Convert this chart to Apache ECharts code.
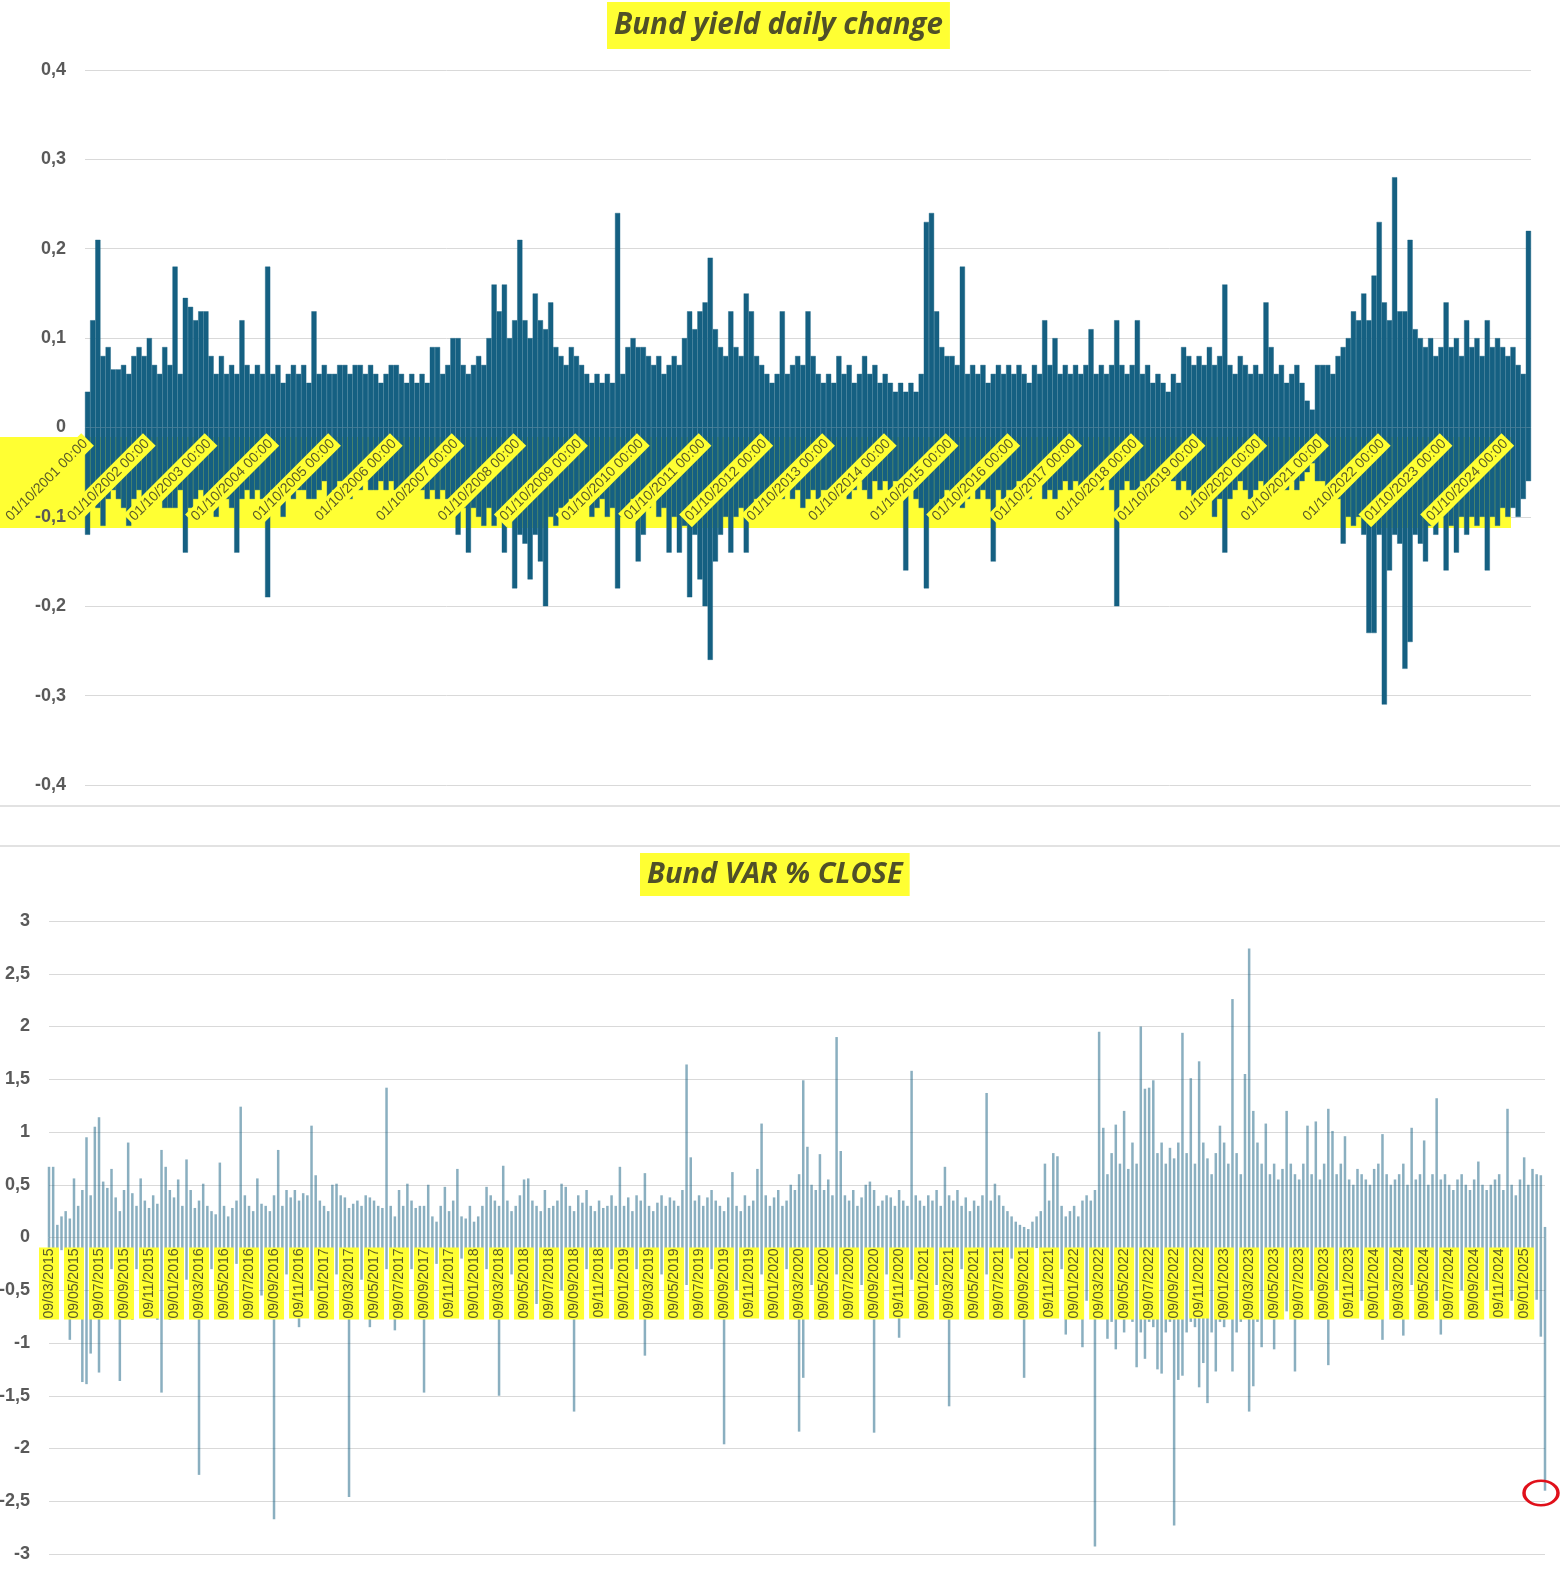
<!DOCTYPE html>
<html>
<head>
<meta charset="utf-8">
<title>Bund yield daily change / Bund VAR % CLOSE</title>
<script src="https://cdn.jsdelivr.net/npm/echarts@6/dist/echarts.min.js"></script>
<style>
  html, body { margin: 0; padding: 0; background: #ffffff; }
  #chart { width: 1560px; height: 1574px; }
</style>
</head>
<body>
<div id="chart"></div>
<script>
// top panel: biggest rise / biggest fall of the Bund yield per month, Oct 2001 .. Feb 2025
const yieldTicks = [
  "01/10/2001 00:00", "01/10/2002 00:00", "01/10/2003 00:00", "01/10/2004 00:00",
  "01/10/2005 00:00", "01/10/2006 00:00", "01/10/2007 00:00", "01/10/2008 00:00",
  "01/10/2009 00:00", "01/10/2010 00:00", "01/10/2011 00:00", "01/10/2012 00:00",
  "01/10/2013 00:00", "01/10/2014 00:00", "01/10/2015 00:00", "01/10/2016 00:00",
  "01/10/2017 00:00", "01/10/2018 00:00", "01/10/2019 00:00", "01/10/2020 00:00",
  "01/10/2021 00:00", "01/10/2022 00:00", "01/10/2023 00:00", "01/10/2024 00:00"
];
const yieldUp = [
  0.04, 0.12, 0.21, 0.08, 0.09, 0.065, 0.065, 0.07, 0.06, 0.08, 0.09, 0.08,
  0.1, 0.07, 0.06, 0.09, 0.07, 0.18, 0.06, 0.145, 0.135, 0.12, 0.13, 0.13,
  0.08, 0.06, 0.08, 0.06, 0.07, 0.06, 0.12, 0.07, 0.06, 0.07, 0.06, 0.18,
  0.06, 0.07, 0.05, 0.06, 0.07, 0.06, 0.07, 0.05, 0.13, 0.06, 0.07, 0.06,
  0.06, 0.07, 0.07, 0.06, 0.07, 0.07, 0.06, 0.07, 0.06, 0.05, 0.06, 0.07,
  0.07, 0.06, 0.05, 0.06, 0.05, 0.06, 0.05, 0.09, 0.09, 0.06, 0.07, 0.1,
  0.1, 0.07, 0.06, 0.07, 0.08, 0.07, 0.1, 0.16, 0.13, 0.16, 0.1, 0.12,
  0.21, 0.12, 0.1, 0.15, 0.12, 0.11, 0.14, 0.09, 0.08, 0.07, 0.09, 0.08,
  0.07, 0.06, 0.05, 0.06, 0.05, 0.06, 0.05, 0.24, 0.06, 0.09, 0.1, 0.09,
  0.09, 0.08, 0.07, 0.08, 0.06, 0.07, 0.08, 0.07, 0.1, 0.13, 0.11, 0.13,
  0.14, 0.19, 0.11, 0.09, 0.08, 0.13, 0.09, 0.08, 0.15, 0.13, 0.08, 0.07,
  0.06, 0.05, 0.06, 0.13, 0.06, 0.07, 0.08, 0.07, 0.13, 0.08, 0.06, 0.05,
  0.06, 0.05, 0.08, 0.06, 0.07, 0.05, 0.06, 0.08, 0.06, 0.07, 0.05, 0.06,
  0.05, 0.04, 0.05, 0.04, 0.05, 0.04, 0.06, 0.23, 0.24, 0.13, 0.09, 0.08,
  0.08, 0.07, 0.18, 0.06, 0.07, 0.06, 0.07, 0.05, 0.06, 0.07, 0.06, 0.07,
  0.06, 0.07, 0.06, 0.05, 0.07, 0.06, 0.12, 0.07, 0.1, 0.06, 0.07, 0.06,
  0.07, 0.06, 0.07, 0.11, 0.06, 0.07, 0.06, 0.07, 0.12, 0.07, 0.06, 0.07,
  0.12, 0.06, 0.07, 0.05, 0.06, 0.05, 0.04, 0.06, 0.05, 0.09, 0.08, 0.07,
  0.08, 0.07, 0.09, 0.07, 0.08, 0.16, 0.07, 0.06, 0.08, 0.07, 0.06, 0.07,
  0.06, 0.14, 0.09, 0.06, 0.07, 0.05, 0.06, 0.07, 0.05, 0.03, 0.02, 0.07,
  0.07, 0.07, 0.06, 0.08, 0.09, 0.1, 0.13, 0.12, 0.15, 0.12, 0.17, 0.23,
  0.14, 0.12, 0.28, 0.13, 0.13, 0.21, 0.11, 0.1, 0.09, 0.1, 0.08, 0.09,
  0.14, 0.09, 0.1, 0.08, 0.12, 0.09, 0.1, 0.08, 0.12, 0.09, 0.1, 0.09,
  0.08, 0.09, 0.07, 0.06, 0.22
];
const yieldDown = [
  -0.12, -0.08, -0.09, -0.11, -0.08, -0.07, -0.08, -0.09, -0.11, -0.08, -0.07, -0.09,
  -0.08, -0.07, -0.08, -0.09, -0.09, -0.09, -0.07, -0.14, -0.09, -0.08, -0.07, -0.08,
  -0.08, -0.1, -0.07, -0.08, -0.09, -0.14, -0.08, -0.07, -0.08, -0.07, -0.08, -0.19,
  -0.07, -0.08, -0.1, -0.07, -0.08, -0.07, -0.07, -0.08, -0.08, -0.07, -0.06, -0.08,
  -0.07, -0.06, -0.07, -0.08, -0.06, -0.07, -0.06, -0.07, -0.07, -0.06, -0.07, -0.06,
  -0.07, -0.08, -0.07, -0.06, -0.07, -0.07, -0.08, -0.07, -0.08, -0.07, -0.08, -0.09,
  -0.12, -0.09, -0.14, -0.09, -0.1, -0.11, -0.09, -0.11, -0.1, -0.14, -0.1, -0.18,
  -0.12, -0.13, -0.17, -0.12, -0.15, -0.2, -0.1, -0.11, -0.09, -0.1, -0.08, -0.09,
  -0.09, -0.08, -0.1, -0.09, -0.08, -0.1, -0.09, -0.18, -0.1, -0.09, -0.08, -0.15,
  -0.12, -0.09, -0.08, -0.1, -0.09, -0.14, -0.1, -0.14, -0.11, -0.19, -0.12, -0.17,
  -0.2, -0.26, -0.15, -0.12, -0.1, -0.14, -0.1, -0.09, -0.14, -0.09, -0.08, -0.08,
  -0.09, -0.08, -0.07, -0.08, -0.07, -0.08, -0.07, -0.09, -0.08, -0.07, -0.08, -0.07,
  -0.07, -0.08, -0.07, -0.06, -0.08, -0.07, -0.06, -0.07, -0.08, -0.06, -0.07, -0.06,
  -0.07, -0.06, -0.07, -0.16, -0.07, -0.08, -0.09, -0.18, -0.1, -0.09, -0.08, -0.07,
  -0.08, -0.07, -0.09, -0.08, -0.07, -0.08, -0.07, -0.08, -0.15, -0.07, -0.08, -0.07,
  -0.07, -0.06, -0.07, -0.08, -0.07, -0.06, -0.08, -0.07, -0.08, -0.07, -0.06, -0.07,
  -0.06, -0.07, -0.06, -0.07, -0.06, -0.07, -0.06, -0.07, -0.2, -0.07, -0.06, -0.07,
  -0.07, -0.06, -0.07, -0.06, -0.07, -0.06, -0.05, -0.06, -0.07, -0.06, -0.07, -0.08,
  -0.07, -0.08, -0.07, -0.1, -0.08, -0.14, -0.08, -0.07, -0.06, -0.07, -0.08, -0.07,
  -0.06, -0.07, -0.06, -0.07, -0.06, -0.07, -0.06, -0.07, -0.06, -0.05, -0.04, -0.06,
  -0.06, -0.07, -0.06, -0.08, -0.13, -0.1, -0.11, -0.1, -0.12, -0.23, -0.23, -0.12,
  -0.31, -0.16, -0.12, -0.13, -0.27, -0.24, -0.12, -0.13, -0.15, -0.11, -0.12, -0.1,
  -0.16, -0.11, -0.14, -0.1, -0.12, -0.1, -0.11, -0.1, -0.16, -0.1, -0.11, -0.09,
  -0.1, -0.09, -0.1, -0.08, -0.06
];

// bottom panel: biggest up / down % close move per ~10 days, Mar 2015 .. Mar 2025
const varTicks = [
  "09/03/2015", "09/05/2015", "09/07/2015", "09/09/2015", "09/11/2015",
  "09/01/2016", "09/03/2016", "09/05/2016", "09/07/2016", "09/09/2016", "09/11/2016",
  "09/01/2017", "09/03/2017", "09/05/2017", "09/07/2017", "09/09/2017", "09/11/2017",
  "09/01/2018", "09/03/2018", "09/05/2018", "09/07/2018", "09/09/2018", "09/11/2018",
  "09/01/2019", "09/03/2019", "09/05/2019", "09/07/2019", "09/09/2019", "09/11/2019",
  "09/01/2020", "09/03/2020", "09/05/2020", "09/07/2020", "09/09/2020", "09/11/2020",
  "09/01/2021", "09/03/2021", "09/05/2021", "09/07/2021", "09/09/2021", "09/11/2021",
  "09/01/2022", "09/03/2022", "09/05/2022", "09/07/2022", "09/09/2022", "09/11/2022",
  "09/01/2023", "09/03/2023", "09/05/2023", "09/07/2023", "09/09/2023", "09/11/2023",
  "09/01/2024", "09/03/2024", "09/05/2024", "09/07/2024", "09/09/2024", "09/11/2024",
  "09/01/2025"
];
const varUp = [
  0.67, 0.67, 0.12, 0.2, 0.25, 0.18, 0.56, 0.3, 0.45, 0.95, 0.4, 1.05, 1.14, 0.53, 0.47, 0.65, 0.38, 0.25, 0.45, 0.9, 0.42, 0.3, 0.56, 0.35, 0.28, 0.4, 0.32, 0.83, 0.67, 0.45,
  0.38, 0.55, 0.3, 0.74, 0.45, 0.28, 0.35, 0.51, 0.3, 0.25, 0.22, 0.71, 0.3, 0.2, 0.28, 0.35, 1.24, 0.4, 0.3, 0.25, 0.56, 0.32, 0.3, 0.25, 0.4, 0.83, 0.3, 0.45, 0.38, 0.45,
  0.35, 0.42, 0.4, 1.06, 0.59, 0.35, 0.3, 0.25, 0.5, 0.51, 0.4, 0.38, 0.28, 0.32, 0.35, 0.3, 0.4, 0.38, 0.35, 0.3, 0.28, 1.42, 0.3, 0.2, 0.45, 0.3, 0.51, 0.35, 0.28, 0.3,
  0.3, 0.5, 0.2, 0.15, 0.3, 0.48, 0.25, 0.35, 0.65, 0.2, 0.18, 0.3, 0.15, 0.2, 0.3, 0.48, 0.4, 0.35, 0.3, 0.68, 0.35, 0.25, 0.3, 0.4, 0.55, 0.56, 0.35, 0.3, 0.25, 0.45,
  0.28, 0.3, 0.35, 0.51, 0.48, 0.3, 0.25, 0.4, 0.33, 0.45, 0.3, 0.25, 0.35, 0.28, 0.3, 0.4, 0.3, 0.67, 0.3, 0.38, 0.25, 0.4, 0.35, 0.61, 0.3, 0.25, 0.33, 0.4, 0.3, 0.38,
  0.35, 0.3, 0.45, 1.64, 0.76, 0.35, 0.4, 0.3, 0.38, 0.45, 0.35, 0.3, 0.25, 0.38, 0.62, 0.3, 0.25, 0.4, 0.3, 0.35, 0.65, 1.08, 0.4, 0.3, 0.38, 0.45, 0.3, 0.35, 0.5, 0.45,
  0.6, 1.49, 0.86, 0.5, 0.45, 0.79, 0.45, 0.55, 0.4, 1.9, 0.82, 0.4, 0.35, 0.45, 0.3, 0.38, 0.5, 0.53, 0.45, 0.3, 0.35, 0.4, 0.38, 0.3, 0.45, 0.35, 0.3, 1.58, 0.4, 0.35,
  0.3, 0.4, 0.35, 0.45, 0.3, 0.67, 0.4, 0.35, 0.45, 0.3, 0.38, 0.25, 0.35, 0.3, 0.4, 1.37, 0.35, 0.51, 0.4, 0.3, 0.25, 0.2, 0.15, 0.12, 0.1, 0.08, 0.15, 0.2, 0.25, 0.7,
  0.35, 0.8, 0.77, 0.3, 0.2, 0.25, 0.3, 0.2, 0.35, 0.4, 0.35, 0.45, 1.95, 1.04, 0.6, 0.8, 1.07, 0.7, 1.2, 0.65, 0.9, 0.7, 2.0, 1.41, 1.42, 1.49, 0.8, 0.9, 0.7, 0.85,
  0.75, 0.9, 1.94, 0.8, 1.51, 0.7, 1.67, 0.9, 0.75, 0.6, 0.8, 1.06, 0.9, 0.7, 2.26, 0.8, 0.6, 1.55, 2.74, 1.2, 0.9, 0.7, 1.08, 0.6, 0.7, 0.55, 0.65, 1.2, 0.7, 0.6,
  0.55, 0.7, 1.06, 0.6, 1.1, 0.55, 0.7, 1.22, 1.01, 0.6, 0.7, 0.96, 0.55, 0.5, 0.65, 0.6, 0.55, 0.5, 0.65, 0.7, 0.98, 0.6, 0.5, 0.55, 0.6, 0.7, 0.5, 1.04, 0.55, 0.6,
  0.92, 0.5, 0.6, 1.32, 0.55, 0.6, 0.5, 0.45, 0.55, 0.6, 0.5, 0.45, 0.55, 0.72, 0.5, 0.45, 0.5, 0.55, 0.6, 0.45, 1.22, 0.5, 0.4, 0.55, 0.76, 0.5, 0.65, 0.6, 0.59, 0.1
];
const varDown = [
  -0.1, -0.15, -0.2, -0.12, -0.3, -0.97, -0.25, -0.2, -1.37, -1.39, -1.1, -0.3, -1.28, -0.4, -0.35, -0.3, -0.5, -1.36, -0.35, -0.6, -0.78, -0.3, -0.4, -0.5, -0.25, -0.3, -0.78, -1.47, -0.5, -0.78,
  -0.35, -0.3, -0.6, -0.4, -0.5, -0.3, -2.25, -0.4, -0.35, -0.3, -0.5, -0.25, -0.4, -0.3, -0.35, -0.25, -0.45, -0.3, -0.5, -0.3, -0.4, -0.55, -0.6, -0.45, -2.67, -0.5, -0.4, -0.35, -0.3, -0.45,
  -0.85, -0.4, -0.35, -0.5, -0.3, -0.45, -0.4, -0.53, -0.3, -0.35, -0.3, -0.4, -2.46, -0.35, -0.3, -0.4, -0.25, -0.85, -0.3, -0.35, -0.4, -0.3, -0.5, -0.88, -0.3, -0.35, -0.25, -0.3, -0.4, -0.35,
  -1.47, -0.3, -0.35, -0.25, -0.4, -0.3, -0.35, -0.25, -0.3, -0.2, -0.3, -0.25, -0.35, -0.3, -0.45, -0.3, -0.25, -0.35, -1.5, -0.4, -0.3, -0.35, -0.5, -0.4, -0.3, -0.45, -0.35, -0.63, -0.3, -0.4,
  -0.35, -0.3, -0.4, -0.5, -0.35, -0.3, -1.65, -0.55, -0.4, -0.3, -0.35, -0.25, -0.3, -0.4, -0.35, -0.3, -0.25, -0.35, -0.4, -0.3, -0.35, -0.3, -0.45, -1.12, -0.35, -0.3, -0.4, -0.35, -0.3, -0.25,
  -0.3, -0.35, -0.4, -0.45, -0.3, -0.35, -0.4, -0.3, -0.35, -0.3, -0.4, -0.35, -1.96, -0.45, -0.4, -0.5, -0.35, -0.3, -0.4, -0.55, -0.45, -0.35, -0.4, -0.3, -0.35, -0.45, -0.4, -0.3, -0.5, -0.35,
  -1.84, -1.33, -0.5, -0.45, -0.4, -0.78, -0.5, -0.4, -0.45, -0.35, -0.6, -0.4, -0.3, -0.35, -0.4, -0.45, -0.3, -0.35, -1.85, -0.4, -0.55, -0.35, -0.3, -0.4, -0.95, -0.3, -0.35, -0.4, -0.3, -0.35,
  -0.35, -0.4, -0.3, -0.45, -0.35, -0.3, -1.6, -0.4, -0.35, -0.3, -0.45, -0.35, -0.4, -0.3, -0.25, -0.35, -0.3, -0.4, -0.3, -0.25, -0.35, -0.2, -0.3, -0.25, -1.33, -0.2, -0.15, -0.1, -0.12, -0.2,
  -0.25, -0.3, -0.35, -0.3, -0.92, -0.4, -0.35, -0.5, -1.04, -0.6, -0.5, -2.93, -0.7, -0.6, -0.96, -0.8, -1.06, -0.7, -0.9, -0.75, -0.8, -1.23, -0.9, -1.15, -0.8, -0.85, -1.25, -1.29, -0.9, -0.8,
  -2.73, -1.35, -1.31, -0.9, -0.8, -0.85, -1.42, -1.19, -1.57, -0.9, -1.27, -0.8, -0.85, -0.75, -1.27, -0.9, -0.8, -0.7, -1.65, -1.41, -0.8, -1.04, -0.7, -0.75, -1.06, -0.6, -0.65, -0.7, -0.6, -1.27,
  -0.6, -0.55, -0.7, -0.5, -0.6, -0.55, -0.65, -1.21, -0.6, -0.5, -0.55, -0.6, -0.45, -0.5, -0.55, -0.6, -0.5, -0.45, -0.55, -0.6, -0.97, -0.5, -0.45, -0.55, -0.6, -0.93, -0.5, -0.45, -0.55, -0.5,
  -0.5, -0.45, -0.55, -0.6, -0.92, -0.5, -0.45, -0.5, -0.55, -0.5, -0.45, -0.6, -0.5, -0.55, -0.45, -0.5, -0.6, -0.5, -0.45, -0.5, -0.55, -0.6, -0.5, -0.45, -0.55, -0.5, -0.45, -0.59, -0.94, -2.4
];

// category names: one per month on top, three per month below
const pad = (n) => String(n).padStart(2, "0");
const yieldCats = [];
yieldTicks.forEach((t) => {
  const year = +t.slice(6, 10);
  for (let i = 0; i < 12 && yieldCats.length < yieldUp.length; i++) {
    const mo = ((9 + i) % 12) + 1;
    const yr = 9 + i >= 12 ? year + 1 : year;
    yieldCats.push(i === 0 ? t : "01/" + pad(mo) + "/" + yr + " 00:00");
  }
});
const varCats = [];
varTicks.forEach((t) => {
  const parts = t.split("/");
  const m = +parts[1];
  [m, m + 1].forEach((mm) => {
    ["09", "19", "29"].forEach((d) => varCats.push(d + "/" + pad(mm) + "/" + parts[2]));
  });
});

const ink = "#595959";
const highlight = "#ffff33";
const barColor = "#156082";
const varColor = "rgba(21,96,130,0.5)";
const gridLine = { lineStyle: { color: "#d9d9d9", width: 1 } };

const valueLabel = {
  show: true,
  fontFamily: "Liberation Sans",
  fontSize: 18,
  fontWeight: "bold",
  color: ink,
  margin: 19,
  formatter: (v) => String(Math.round(v * 10) / 10).replace(".", ","),
};

const titleText = {
  fontFamily: "Open Sans",
  fontStyle: "italic",
  fontWeight: "bold",
  color: "#505028",
};

const chart = echarts.init(document.getElementById("chart"));
const option = {
  animation: false,
  backgroundColor: "#ffffff",
  title: [
    {
      text: "Bund yield daily change",
      left: 607,
      top: 2,
      padding: [6, 7],
      backgroundColor: highlight,
      textStyle: Object.assign({ fontSize: 29.5, lineHeight: 35 }, titleText),
    },
    {
      text: "Bund VAR % CLOSE",
      left: 640,
      top: 853,
      padding: [5, 7],
      backgroundColor: highlight,
      textStyle: Object.assign({ fontSize: 29, lineHeight: 33 }, titleText),
    },
  ],
  grid: [
    { left: 85, right: 29, top: 70, height: 715, outerBoundsMode: "none" },
    { left: 49, right: 15, top: 921, height: 633, outerBoundsMode: "none" },
  ],
  xAxis: [
    {
      type: "category",
      gridIndex: 0,
      data: yieldCats,
      position: "bottom",
      offset: -357.5, // sits on the zero line
      z: 10,
      axisLine: { show: false, onZero: false },
      axisTick: { show: false },
      axisLabel: {
        interval: 11,
        rotate: 45,
        margin: 12,
        fontFamily: "Liberation Sans",
        fontSize: 14,
        lineHeight: 16,
        color: "#5a5a28",
        backgroundColor: highlight,
        padding: [1, 3],
      },
    },
    {
      type: "category",
      gridIndex: 1,
      data: varCats,
      boundaryGap: false,
      position: "bottom",
      offset: -316.5,
      z: 10,
      axisLine: { show: false, onZero: false },
      axisTick: { show: false },
      axisLabel: {
        interval: 5,
        rotate: 90,
        margin: 10,
        fontFamily: "Liberation Sans",
        fontSize: 14,
        lineHeight: 18,
        color: "#5a5a28",
        backgroundColor: highlight,
        padding: [1, 1],
      },
    },
  ],
  yAxis: [
    { type: "value", gridIndex: 0, min: -0.4, max: 0.4, interval: 0.1, axisLabel: { show: false }, splitLine: gridLine, z: 0 },
    { type: "value", gridIndex: 0, position: "left", min: -0.4, max: 0.4, interval: 0.1, axisLabel: valueLabel, splitLine: { show: false }, z: 5 },
    { type: "value", gridIndex: 1, min: -3, max: 3, interval: 0.5, axisLabel: { show: false }, splitLine: gridLine, z: 0 },
    { type: "value", gridIndex: 1, position: "left", min: -3, max: 3, interval: 0.5, axisLabel: valueLabel, splitLine: { show: false }, z: 5 },
  ],
  series: [
    {
      name: "rise",
      type: "bar",
      xAxisIndex: 0,
      yAxisIndex: 0,
      data: yieldUp,
      barCategoryGap: "0%",
      barGap: "-100%",
      itemStyle: { color: barColor, borderColor: barColor, borderWidth: 0.4 },
    },
    {
      name: "fall",
      type: "bar",
      xAxisIndex: 0,
      yAxisIndex: 0,
      data: yieldDown,
      barCategoryGap: "0%",
      barGap: "-100%",
      itemStyle: { color: barColor, borderColor: barColor, borderWidth: 0.4 },
    },
    {
      name: "var up",
      type: "bar",
      xAxisIndex: 1,
      yAxisIndex: 2,
      data: varUp,
      barWidth: 2.5,
      barGap: "-100%",
      itemStyle: { color: varColor },
    },
    {
      name: "var down",
      type: "bar",
      xAxisIndex: 1,
      yAxisIndex: 2,
      data: varDown,
      barWidth: 2.5,
      barGap: "-100%",
      itemStyle: { color: varColor },
    },
  ],
  graphic: [
    // highlighter band behind the top date labels
    { type: "rect", z: 1, shape: { x: 0, y: 437, width: 1511, height: 91 }, style: { fill: highlight } },
    { type: "line", z: 1, shape: { x1: 0, y1: 806, x2: 1560, y2: 806 }, style: { stroke: "#d9d9d9", lineWidth: 1.5 } },
    { type: "line", z: 1, shape: { x1: 0, y1: 846, x2: 1560, y2: 846 }, style: { stroke: "#d9d9d9", lineWidth: 1.5 } },
    // red ring around the last drop
    {
      type: "circle",
      z: 20,
      x: 1541,
      y: 1493,
      scaleY: 0.72,
      shape: { cx: 0, cy: 0, r: 17 },
      style: { fill: "none", stroke: "#e0101a", lineWidth: 3.5 },
    },
  ],
};
chart.setOption(option);
</script>
</body>
</html>
